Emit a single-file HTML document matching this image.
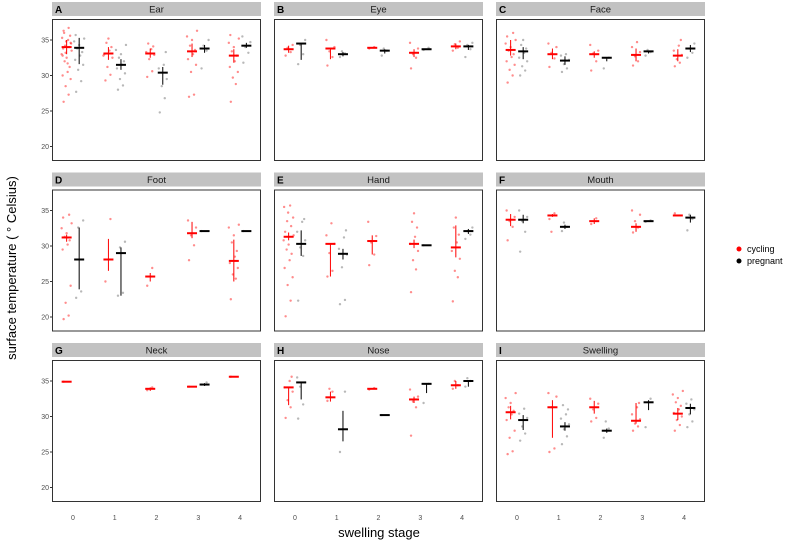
<!DOCTYPE html>
<html><head><meta charset="utf-8"><style>
body{margin:0;background:#fff;}
svg{display:block;font-family:"Liberation Sans",sans-serif;}
</style></head><body>
<svg id="chart" width="792" height="542" viewBox="0 0 792 542"></svg>
<script>
const panelNames=["Ear","Eye","Face","Foot","Hand","Mouth","Neck","Nose","Swelling"];
const panelLetters=["A","B","C","D","E","F","G","H","I"];
const stages=[0,1,2,3,4];
const yTicks=[20,25,30,35];
// cycling means / lows / highs per panel per stage (null = no data)
const cycMean=[[34.0,33.1,33.1,33.4,32.8],[33.7,33.8,33.9,33.2,34.1],[33.6,33.0,33.0,32.9,32.8],[31.2,28.1,25.7,31.8,27.9],[31.3,30.3,30.7,30.3,29.8],[33.7,34.3,33.5,32.7,34.3],[34.9,null,33.9,34.2,35.6],[34.1,32.7,33.9,32.4,34.4],[30.6,31.3,31.3,29.4,30.4]];
const cycLo=[[33.0,32.2,32.5,32.6,31.8],[33.2,32.3,33.8,32.6,33.7],[32.8,32.3,32.5,32.0,32.0],[30.6,26.5,25.0,31.1,25.0],[30.8,25.7,28.8,29.7,28.4],[32.8,34.1,33.1,32.0,34.2],[34.9,null,33.6,34.2,35.6],[31.6,32.1,33.8,31.9,33.9],[29.6,27.0,30.4,29.0,29.5]];
const cycHi=[[35.0,34.0,33.8,34.5,33.7],[34.2,33.9,34.0,33.7,34.5],[35.0,33.8,33.4,33.8,33.7],[31.6,31.0,26.2,33.4,30.9],[31.9,30.3,31.5,30.9,32.9],[34.5,34.5,33.9,33.2,34.4],[34.9,null,34.1,34.2,35.6],[34.1,33.5,34.0,32.8,35.0],[31.5,32.3,32.2,31.9,31.2]];
const pregMean=[[33.9,31.5,30.4,33.8,34.2],[34.5,33.0,33.5,33.7,34.1],[33.4,32.1,32.5,33.4,33.8],[28.1,29.0,null,32.1,32.1],[30.3,28.9,null,30.1,32.1],[33.7,32.7,null,33.5,34.0],[null,null,null,34.5,null],[34.8,28.2,30.2,34.6,35.0],[29.5,28.6,28.0,32.0,31.2]];
const pregLo=[[31.6,30.8,28.7,33.2,33.9],[32.2,32.7,33.1,33.6,33.6],[32.3,31.5,32.0,33.1,33.3],[23.9,23.0,null,32.1,32.1],[28.6,28.1,null,30.1,31.7],[33.2,32.4,null,33.4,33.3],[null,null,null,34.3,null],[32.4,26.5,30.2,33.3,34.2],[28.1,28.0,27.7,30.9,30.3]];
const pregHi=[[35.3,32.3,31.2,34.3,34.6],[34.5,33.3,33.7,33.8,34.3],[34.0,32.7,32.6,33.5,34.3],[32.6,29.8,null,32.1,32.1],[32.2,29.6,null,30.1,32.4],[34.4,33.0,null,33.6,34.4],[null,null,null,34.7,null],[34.8,30.8,30.2,34.6,35.1],[30.2,29.2,28.3,32.3,31.8]];
// raw observations
const cycPts=[
[[26.3,27.3,28.5,29.5,30.0,30.5,31.2,32.0,32.5,33.0,33.5,33.8,34.0,34.2,34.5,34.8,35.0,35.3,35.6,36.0,36.3,36.7,33.2,34.6,32.8,31.7],[29.3,30.1,31.2,32.5,33.0,33.5,34.0,34.6,35.2,32.8],[29.8,30.6,32.3,32.9,33.3,33.7,34.1,34.5],[27.0,27.3,30.5,31.5,32.3,33.0,33.6,34.2,35.0,35.5,36.3],[26.3,28.8,29.7,30.5,31.2,32.0,32.8,33.4,34.0,34.6,35.2,35.7]],
[[32.8,33.3,33.9,34.3],[31.4,32.6,33.4,34.0,35.0],[33.8,34.0],[31.0,32.5,33.0,33.8,34.6],[33.5,33.9,34.4,34.8]],
[[29.0,30.0,30.8,31.5,32.0,32.6,33.0,33.5,34.0,34.5,35.0,35.5,36.0],[31.2,32.4,33.2,34.0,34.5],[30.7,32.0,33.1,33.5,34.3],[31.4,32.0,32.7,33.3,34.0,34.7],[31.3,31.8,32.3,32.9,33.5,34.2,35.0]],
[[19.7,20.2,22.0,24.4,29.5,30.2,30.8,31.3,31.8,32.5,33.2,34.0,34.4],[25.0,33.8],[24.4,26.9],[28.0,30.1,31.5,32.6,33.6],[22.5,25.4,26.0,26.9,27.6,28.5,29.3,30.5,31.5,32.6,33.0]],
[[20.1,22.3,24.5,25.6,26.9,28.0,28.9,29.5,30.2,30.8,31.5,32.0,32.8,33.5,34.0,34.7,35.7,35.5],[25.7,26.5,29.0,30.3,31.5,33.2],[27.3,28.8,30.5,31.4,33.4],[23.5,26.7,28.0,29.3,30.3,31.3,32.6,33.4,34.6],[22.2,25.6,26.5,28.2,29.3,30.5,31.6,32.6,34.0]],
[[30.8,32.7,33.5,34.1,35.0],[33.8,34.6,32.0],[33.1,33.9],[31.9,32.6,33.5,34.4,35.0],[34.6]],
[[34.9],[],[33.7,34.1],[34.2],[35.6]],
[[29.8,31.3,32.3,33.5,34.1,35.0,35.6],[32.2,33.5,33.9],[33.8,34.0],[27.3,31.3,32.1,32.8,33.8],[33.9,34.4,35.0]],
[[24.7,25.1,27.0,28.0,29.5,30.3,30.8,31.3,31.9,32.6,33.3],[25.0,25.5,31.3,32.8,33.3],[29.3,29.8,31.0,31.8,32.5],[28.0,28.6,29.0,29.6,30.3,31.3,31.9],[28.0,28.8,29.5,30.0,30.5,31.0,31.5,32.0,32.6,33.1,33.6]]];
const pregPts=[
[[27.7,29.2,30.8,31.5,32.2,32.8,33.3,33.8,34.3,34.8,35.2,35.7],[28.0,28.6,29.5,30.3,31.0,31.5,32.0,32.5,33.0,33.6,34.3],[24.8,26.8,28.5,29.5,31.0,31.5,33.3],[31.0,33.5,34.2,35.0],[31.8,33.2,34.0,34.7,35.5]],
[[31.6,33.0,34.3,35.0],[32.6,33.1,33.4],[32.8,33.5,33.8],[33.6,33.9],[32.6,33.7,34.3,34.6]],
[[30.0,30.7,31.3,32.0,32.5,33.2,33.8,34.3,35.0],[30.5,31.0,31.6,32.2,32.8,33.0],[31.0,32.5],[32.8,33.3,33.6],[32.5,33.2,33.8,34.5]],
[[22.7,23.6,32.6,33.6],[23.0,23.4,29.8,30.6],[],[32.1],[32.1]],
[[22.3,28.6,29.8,30.8,32.0,33.4,33.8],[21.8,22.4,27.0,28.8,29.6,31.2,32.2],[],[30.1],[31.0,31.6,32.1,32.6]],
[[29.2,32.0,33.5,34.1,35.0],[32.1,32.7,33.3],[],[33.4,33.6],[32.2,33.8,34.4]],
[[],[],[],[34.5,34.8],[]],
[[29.7,31.7,34.2,34.8,35.5],[25.0,33.5],[30.2],[31.9,34.6],[34.2,35.0,35.4]],
[[26.6,27.6,28.6,29.8,30.4,31.1],[26.1,27.2,28.2,28.9,29.7,30.3,31.0,31.6],[27.0,28.3,29.3],[28.5,32.5],[28.5,29.3,30.3,31.0,31.8,32.4]]];
const svg=document.getElementById('chart');
const NS='http://www.w3.org/2000/svg';
function mk(tag,attrs,parent,txt){const e=document.createElementNS(NS,tag);for(const k in attrs)e.setAttribute(k,attrs[k]);if(txt!==undefined)e.textContent=txt;(parent||svg).appendChild(e);return e;}
const colX=[52,274,496],rowY=[2,172.5,343],PW=209,PH=141,SH=14;
function xScale(col,s){return colX[col]+(s+0.5)*PW/5;}
function yScale(row,v){const top=rowY[row]+SH+3;return top+21+(35-v)*7.1;}
const jit=[-3,2,-1,4,-4,1,3,-2,0,-5,5,-3.5,2.5,-1.5,4.5,-0.5,1.5,-4.5,3.5,-2.5];
for(let p=0;p<9;p++){
  const col=p%3,row=Math.floor(p/3);
  const g=mk('g',{});
  
  
  const strip=mk('rect',{x:colX[col],y:rowY[row],width:PW,height:SH,fill:'#c2c2c2'},g);
  
  
  const lt=mk('text',{x:colX[col]+3,y:rowY[row]+11,'font-size':10,'font-weight':'bold',fill:'#000'},g,panelLetters[p]);
  
  
  const tt=mk('text',{x:colX[col]+PW/2,y:rowY[row]+10.5,'font-size':9.5,'text-anchor':'middle',fill:'#1a1a1a'},g,panelNames[p]);
  
  
  const top=rowY[row]+SH+3;
  const box=mk('rect',{x:colX[col]+0.5,y:top+0.5,width:PW-1,height:PH,fill:'#fff',stroke:'#333','stroke-width':1},g);
  
  
  if(col===0){yTicks.forEach(t=>{const y=yScale(row,t);
    mk('line',{x1:colX[col]-2,x2:colX[col],y1:y,y2:y,stroke:'#333'},g);
    const tl=mk('text',{x:colX[col]-3,y:y+2.5,'font-size':7,'text-anchor':'end',fill:'#4d4d4d'},g,t);
    
    });}
  if(row===2){stages.forEach(s=>{const x=xScale(col,s);
    const xl=mk('text',{x:x,y:520,'font-size':7,'text-anchor':'middle',fill:'#4d4d4d'},g,s);
    
    });}
  const groups=[{pts:cycPts,m:cycMean,lo:cycLo,hi:cycHi,off:-0.15,pc:'rgba(255,0,0,0.45)',lc:'#ff0000',n:'cycling'},
                {pts:pregPts,m:pregMean,lo:pregLo,hi:pregHi,off:0.15,pc:'rgba(0,0,0,0.28)',lc:'#000',n:'pregnant'}];
  groups.forEach(G=>{stages.forEach(s=>{
    const cx=xScale(col,s+G.off);
    G.pts[p][s].forEach((v,i)=>{const c=mk('circle',{cx:cx+jit[i%jit.length],cy:yScale(row,v),r:1.2,fill:G.pc},g);
      
      });
    const m=G.m[p][s];if(m===null)return;
    const eb=mk('line',{x1:cx,x2:cx,y1:yScale(row,G.lo[p][s]),y2:yScale(row,G.hi[p][s]),stroke:G.lc,'stroke-width':1},g);
    
    
    const ml=mk('line',{x1:cx-5,x2:cx+5,y1:yScale(row,m),y2:yScale(row,m),stroke:G.lc,'stroke-width':2},g);
    
    
  });});
}
const yt=mk('text',{x:0,y:0,'font-size':13,'text-anchor':'middle',fill:'#000',transform:'translate(16,268) rotate(-90)'},svg,'surface temperature ( ° Celsius)');


const xt=mk('text',{x:379,y:537,'font-size':13,'text-anchor':'middle',fill:'#000'},svg,'swelling stage');


const leg=mk('g',{});


const l1=mk('circle',{cx:739,cy:249,r:2.5,fill:'#ff0000'},leg);


const t1=mk('text',{x:747,y:252,'font-size':9,fill:'#000'},leg,'cycling');


const l2=mk('circle',{cx:739,cy:261,r:2.5,fill:'#000'},leg);


const t2=mk('text',{x:747,y:264,'font-size':9,fill:'#000'},leg,'pregnant');


</script>
</body></html>
